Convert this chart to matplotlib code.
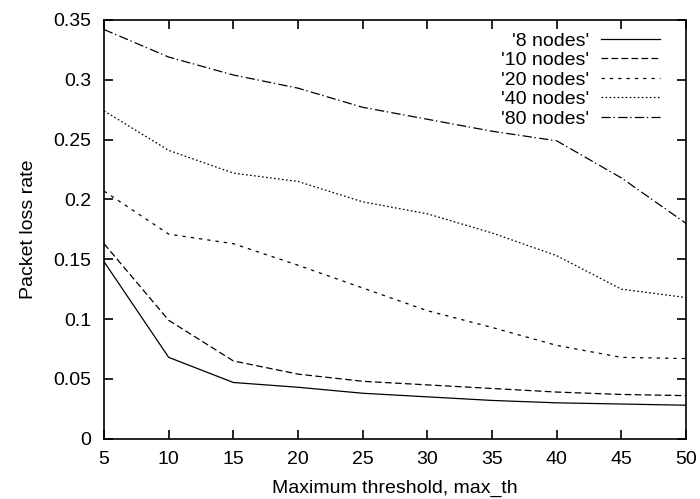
import numpy as np
import matplotlib
matplotlib.use('Agg')
import matplotlib.pyplot as plt

plt.rcParams['font.family'] = ['Liberation Sans', 'DejaVu Sans']
plt.rcParams['lines.scale_dashes'] = False

# Data
max_th = [5, 10, 15, 20, 25, 30, 35, 40, 45, 50]
loss_8 = [0.148, 0.068, 0.047, 0.043, 0.038, 0.035, 0.032, 0.030, 0.029, 0.028]
loss_10 = [0.163, 0.099, 0.065, 0.054, 0.048, 0.045, 0.042, 0.039, 0.037, 0.036]
loss_20 = [0.207, 0.171, 0.163, 0.145, 0.126, 0.107, 0.093, 0.078, 0.068, 0.067]
loss_40 = [0.274, 0.241, 0.222, 0.215, 0.198, 0.188, 0.172, 0.153, 0.125, 0.118]
loss_80 = [0.342, 0.319, 0.304, 0.293, 0.277, 0.267, 0.257, 0.249, 0.218, 0.180]
labels = ["'8 nodes'", "'10 nodes'", "'20 nodes'", "'40 nodes'", "'80 nodes'"]

fs = 14
fig = plt.figure(figsize=(7.0, 4.99), dpi=100)
ax = fig.add_axes([0.1486, 0.1208, 0.8314, 0.8392])

lw = 0.9
ax.plot(max_th, loss_8, color='black', linewidth=lw, linestyle='-', label=labels[0])
ax.plot(max_th, loss_10, color='black', linewidth=lw, dashes=(4.8, 2.4), label=labels[1])
ax.plot(max_th, loss_20, color='black', linewidth=lw, dashes=(2.4, 3.6), label=labels[2])
ax.plot(max_th, loss_40, color='black', linewidth=lw, dashes=(1.2, 1.7), label=labels[3])
ax.plot(max_th, loss_80, color='black', linewidth=lw, dashes=(6.7, 1.9, 1.0, 2.4), label=labels[4])

ax.set_xlim(5, 50)
ax.set_ylim(0, 0.35)
ax.set_xticks(np.arange(5, 51, 5))
ax.set_yticks([0, 0.05, 0.1, 0.15, 0.2, 0.25, 0.3, 0.35])
ax.set_yticklabels(['0', '0.05', '0.1', '0.15', '0.2', '0.25', '0.3', '0.35'])
ax.tick_params(direction='in', top=True, right=True, length=6.5, width=1.2,
               labelsize=fs, pad=9)
for s in ax.spines.values():
    s.set_linewidth(1.2)

ax.set_xlabel('Maximum threshold, max_th', fontsize=fs, labelpad=8)
ax.set_ylabel('Packet loss rate', fontsize=fs, labelpad=12)

leg = ax.legend(loc='upper right', bbox_to_anchor=(0.968, 0.99), frameon=False,
                markerfirst=False, fontsize=fs, handlelength=3.0,
                labelspacing=0.1, borderaxespad=0.0, handletextpad=0.6)
for t in leg.get_texts():
    t.set_ha('right')

fig.savefig('out.png', dpi=100)
